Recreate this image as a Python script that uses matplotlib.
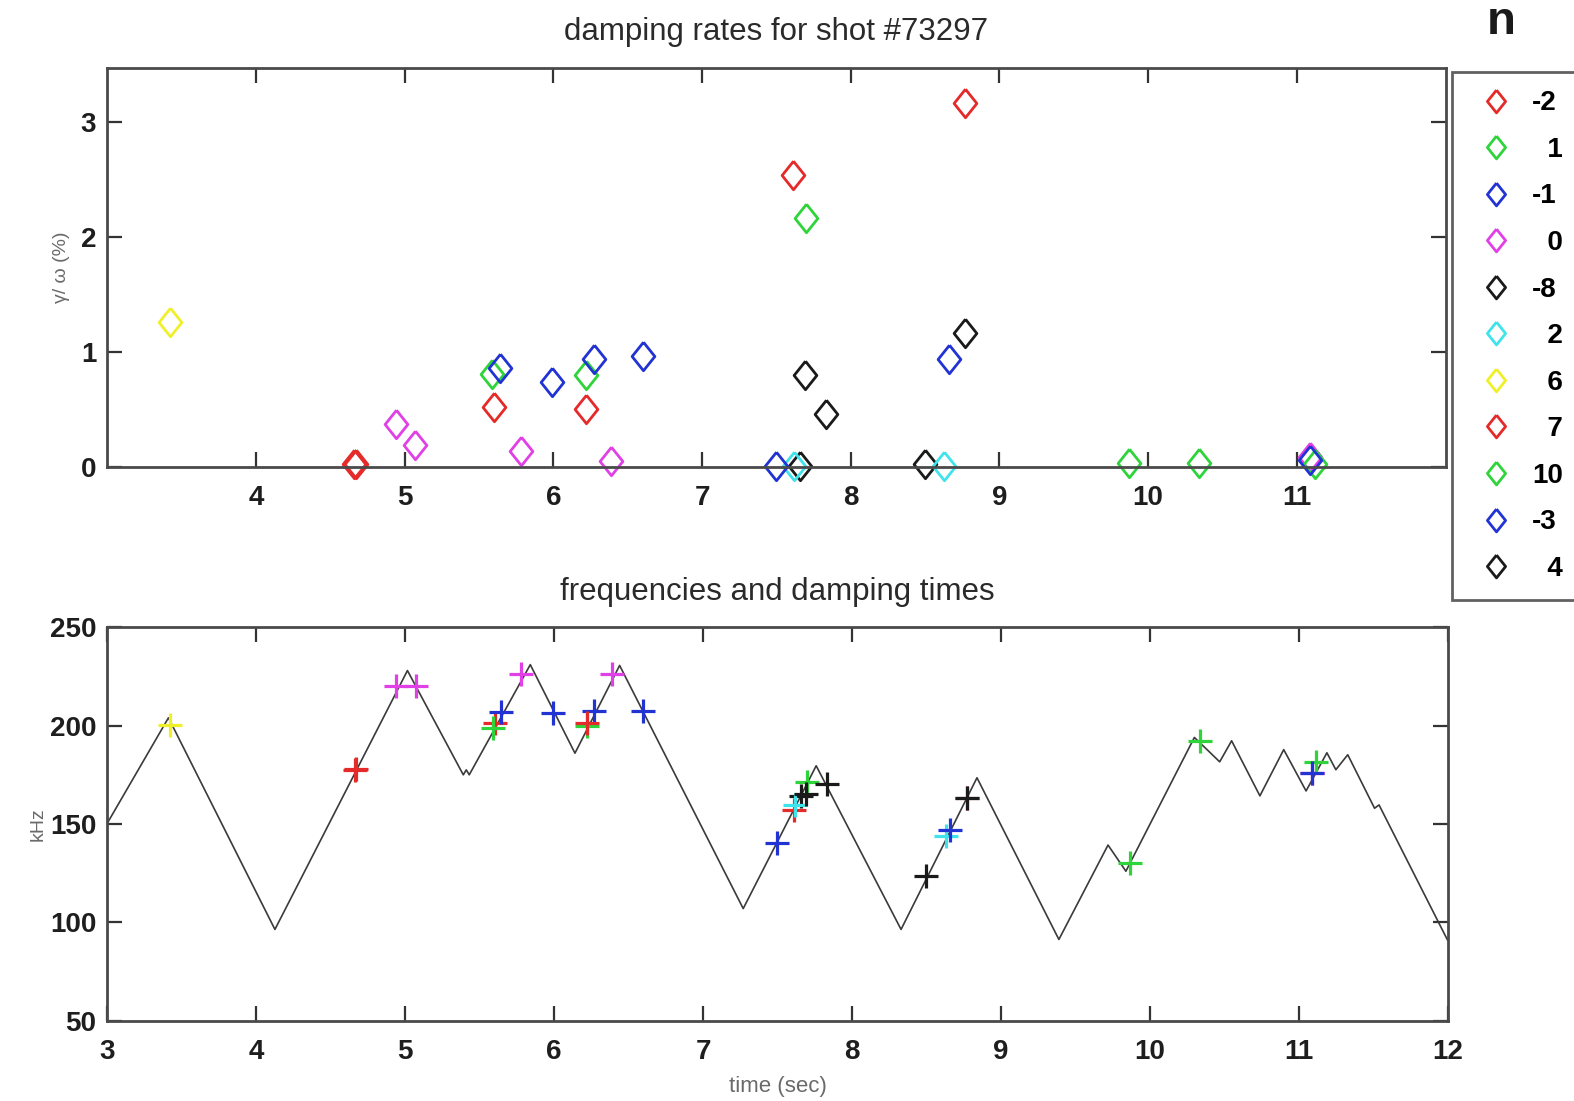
import matplotlib
matplotlib.use('Agg')
import matplotlib.pyplot as plt

# mode numbers as they appear in the legend
modes = ['-2', '1', '-1', '0', '-8', '2', '6', '7', '10', '-3', '4']
colors = ['#e52a2a', '#2ed43a', '#2233d4', '#e040e6', '#1a1a1a', '#3fe4ea',
          '#f0f02a', '#e52a2a', '#2ed43a', '#2233d4', '#1a1a1a']

# time (s), damping rate gamma/omega (%), frequency (kHz) for each mode
t_m2 = [4.66, 5.60, 7.61, 8.77]
g_m2 = [0.02, 0.52, 2.54, 3.16]
f_m2 = [177.5, 201.5, 157.0, 163.0]

t_1 = [5.59, 6.22, 7.70]
g_1 = [0.81, 0.80, 2.16]
f_1 = [199.0, 200.0, 171.5]

t_m1 = [5.64, 5.99, 6.27, 6.60]
g_m1 = [0.86, 0.74, 0.94, 0.96]
f_m1 = [207.0, 206.6, 207.6, 207.6]

t_0 = [4.94, 5.07, 5.78, 6.39, 11.09]
g_0 = [0.37, 0.19, 0.14, 0.05, 0.08]
f_0 = [220.4, 220.4, 226.0, 226.0, 176.0]

t_m8 = [7.66, 7.83, 8.50]
g_m8 = [0.01, 0.46, 0.02]
f_m8 = [164.0, 170.4, 123.5]

t_2 = [7.62, 8.63]
g_2 = [0.01, 0.01]
f_2 = [159.7, 143.9]

t_6 = [3.42]
g_6 = [1.26]
f_6 = [200.5]

t_7 = [4.67, 6.22]
g_7 = [0.02, 0.50]
f_7 = [178.0, 201.5]

t_10 = [9.87, 10.34, 11.12]
g_10 = [0.03, 0.03, 0.02]
f_10 = [130.0, 192.3, 181.6]

t_m3 = [7.50, 8.66, 11.09]
g_m3 = [0.01, 0.94, 0.06]
f_m3 = [140.3, 147.0, 176.0]

t_4 = [7.69, 8.77]
g_4 = [0.80, 1.16]
f_4 = [165.5, 163.0]

times = [t_m2, t_1, t_m1, t_0, t_m8, t_2, t_6, t_7, t_10, t_m3, t_4]
gammas = [g_m2, g_1, g_m1, g_0, g_m8, g_2, g_6, g_7, g_10, g_m3, g_4]
freqs = [f_m2, f_1, f_m1, f_0, f_m8, f_2, f_6, f_7, f_10, f_m3, f_4]

# frequency sweep (black trace)
sweep_t = [3.0, 3.41, 4.125, 5.015, 5.39, 5.41, 5.43, 5.84, 6.14, 6.44, 7.27,
           7.76, 8.33, 8.84, 9.39, 9.72, 9.84, 10.30, 10.47, 10.55, 10.74,
           10.90, 11.05, 11.19, 11.25, 11.33, 11.51, 11.54, 12.0]
sweep_f = [150.5, 204.0, 96.4, 228.0, 175.0, 177.5, 175.0, 231.0, 186.0, 230.6,
           107.0, 179.6, 96.4, 173.5, 91.3, 139.3, 126.0, 194.0, 181.6, 192.3,
           164.3, 187.8, 166.8, 186.2, 177.6, 185.2, 158.0, 159.7, 91.0]

plt.rcParams['font.family'] = ['Liberation Sans', 'DejaVu Sans']

diamond = [(0, 1), (0.8, 0), (0, -1), (-0.8, 0), (0, 1)]

W, H = 1568, 1097
fig = plt.figure(figsize=(15.74, 11.01), dpi=100)
ax1 = fig.add_axes([107 / W, 1 - 465 / H, (1440 - 107) / W, (465 - 68) / H])
ax2 = fig.add_axes([107 / W, 1 - 1017 / H, (1442 - 107) / W, (1017 - 625) / H])

handles = []
for t, g, c, n in zip(times, gammas, colors, modes):
    # pad one-character labels so the legend text lines up on the right
    lab = n if len(n) > 1 else '\u2007' + n
    h, = ax1.plot(t, g, linestyle='none', marker=diamond, markersize=20.5,
                  markerfacecolor='none', markeredgecolor=c,
                  markeredgewidth=2.0, clip_on=False, label=lab)
    handles.append(h)

ax2.plot(sweep_t, sweep_f, color='#3a3a3a', linewidth=1.2)
for t, f, c in zip(times, freqs, colors):
    ax2.plot(t, f, linestyle='none', marker='+', markersize=17.5,
             markeredgecolor=c, markeredgewidth=2.3, clip_on=False)

ax1.set_xlim(3, 12)
ax1.set_ylim(0, 3.465)
ax1.set_xticks(range(4, 12))
ax1.set_yticks([0, 1, 2, 3])
ax2.set_xlim(3, 12)
ax2.set_ylim(50, 250)
ax2.set_xticks(range(3, 13))
ax2.set_yticks([50, 100, 150, 200, 250])

for ax in (ax1, ax2):
    ax.tick_params(direction='in', length=11, width=1.6, color='#333333',
                   top=True, right=True, labelsize=20, pad=8,
                   labelcolor='#1e1e1e')
    ax.tick_params(axis='x', pad=13)
    for lab in ax.get_xticklabels() + ax.get_yticklabels():
        lab.set_fontweight('bold')
    for s in ax.spines.values():
        s.set_color('#4a4a4a')
        s.set_linewidth(2.0)

ax1.set_title('damping rates for shot #73297', fontsize=22.5, color='#2a2a2a',
              pad=20)
ax2.set_title('frequencies and damping times', fontsize=22.5, color='#2a2a2a',
              pad=20)
ax1.set_ylabel('γ/ ω (%)', fontsize=14, color='#6a6a6a', labelpad=8)
ax2.set_ylabel('kHz', fontsize=14, color='#6a6a6a', labelpad=2)
ax2.set_xlabel('time (sec)', fontsize=16, color='#6a6a6a', labelpad=8)

leg = fig.legend(handles=handles, loc='upper left',
                 bbox_to_anchor=(1446 / W, 1 - 72 / H),
                 prop={'weight': 'bold', 'size': 20}, labelspacing=0.74,
                 handlelength=1.9, handletextpad=0.35, borderpad=0.65,
                 borderaxespad=0, frameon=True, fancybox=False,
                 markerscale=0.8)
leg.get_frame().set_edgecolor('#3a3a3a')
leg.get_frame().set_linewidth(2.0)
fig.text(1495 / W, 1 - 22 / H, 'n', fontsize=34, fontweight='bold',
         ha='center', va='center', color='#1a1a1a')

fig.savefig('out.png', dpi=100)
